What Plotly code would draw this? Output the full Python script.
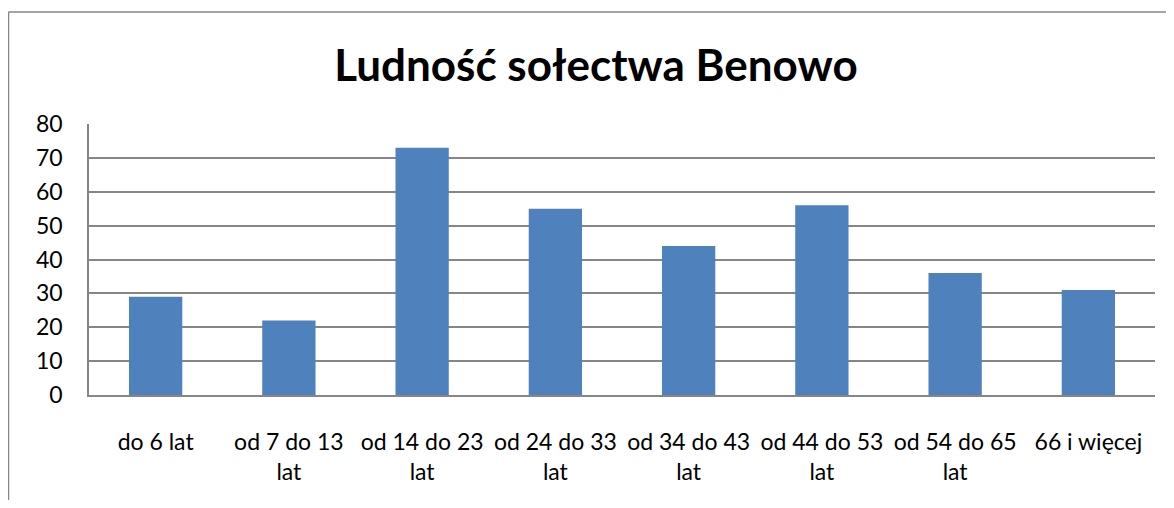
import plotly.graph_objects as go

categories = ["do 6 lat", "od 7 do 13<br>lat", "od 14 do 23<br>lat", "od 24 do 33<br>lat",
              "od 34 do 43<br>lat", "od 44 do 53<br>lat", "od 54 do 65<br>lat", "66 i więcej"]
values = [29, 22, 73, 55, 44, 56, 36, 31]
title_text = "Ludność sołectwa Benowo"

# page body adds an 8px offset; compensate
OFF = 8
W, H = 1174 - OFF, 508 - 2 * OFF
ml, mt = 89 - OFF, 124 - OFF
mr = W - (1155 - OFF)
mb = H - (395 - OFF)
pw, ph = W - ml - mr, H - mt - mb

fig = go.Figure(go.Bar(x=categories, y=values, marker_color="#4F81BD", marker_line_width=0))

fig.update_layout(
    width=W, height=H,
    margin=dict(l=ml, r=mr, t=mt, b=mb, autoexpand=False),
    paper_bgcolor="white", plot_bgcolor="white",
    bargap=0.6,
    showlegend=False,
    font=dict(family="Lato, Open Sans, sans-serif", size=23, color="black"),
    title=dict(text="<b>" + title_text + "</b>", x=(596 - OFF) / W, xanchor="center",
               y=1 - (66 - OFF) / H, yanchor="middle",
               font=dict(size=44, color="black")),
)
fig.update_yaxes(range=[0, 80], dtick=10, showgrid=True, gridcolor="#868686", gridwidth=1.5,
                 showline=True, linecolor="#868686", linewidth=1.5, zeroline=False,
                 ticks="", ticklabelstandoff=20, tickfont=dict(size=23))
fig.update_xaxes(showline=True, linecolor="#868686", linewidth=1.5, ticks="",
                 ticklabelstandoff=26, tickangle=0, tickfont=dict(size=23))

# outer chart frame (left and top edges visible)
x0 = (8.5 - 89) / pw
y1 = 1 + (124 - 12) / ph
frame = dict(color="#868686", width=1.5)
fig.add_shape(type="line", xref="paper", yref="paper", x0=x0, x1=x0, y0=-1, y1=y1, line=frame, layer="below")
fig.add_shape(type="line", xref="paper", yref="paper", x0=x0, x1=1.3, y0=y1, y1=y1, line=frame, layer="below")

fig.write_html("out.html")
